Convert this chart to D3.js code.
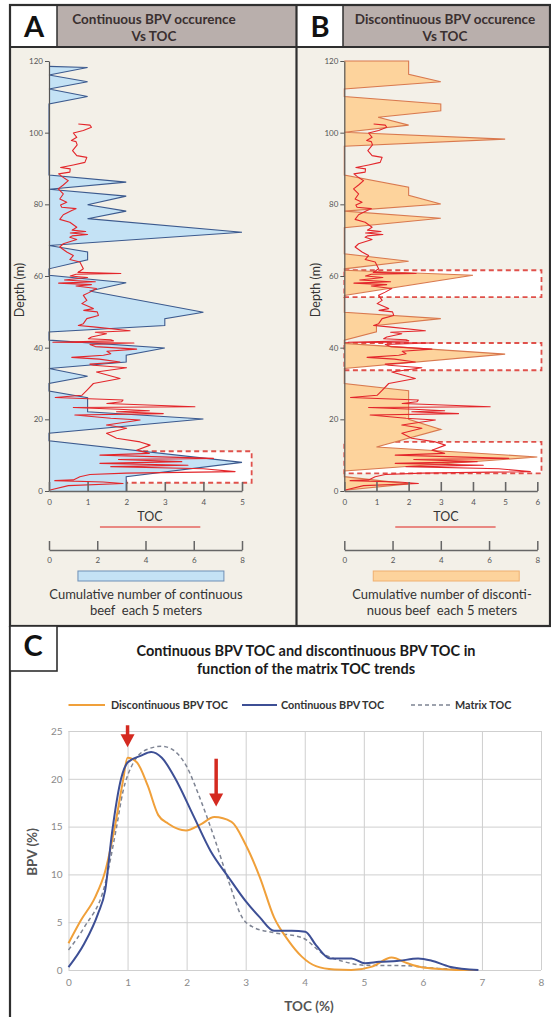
<!DOCTYPE html>
<html><head><meta charset="utf-8">
<script src="https://cdn.jsdelivr.net/npm/d3@7"></script>
<style>
body{margin:0;background:#fff;}
svg{display:block;font-family:Lato,'Open Sans',sans-serif;}
</style>
</head><body>
<svg id="c" width="551" height="1017"></svg>
<script>
// ---------------- DATA ----------------
const depthTicks = [0,20,40,60,80,100,120];
const tocTicksA = [0,1,2,3,4,5];
const tocTicksB = [0,1,2,3,4,5,6];
const cumTicks = [0,2,4,6,8];

// Continuous BPV occurrence profile (panel A), in grid units of the TOC axis
const contDepth = [118.5,118.2,116.1,114.2,112.2,110.1,108.0, 88.2,86.2,84.2,82.3,79.9,78.1,76.0,72.2,68.5,66.7,64.5,62.0, 60.2,58.1,55.8,49.9,48.1,46.2,44.4, 42.1,39.9,37.9,36.0,34.2,32.0,30.0, 27.9,26.0,22.1,20.1,16.1, 14.0,8.0,4.0,0];
const contValue = [0,1,0,1,0,1,0, 0,2,0,2,1,2,1,5,0,1,1,0, 0,2,1.05,4,3,3,0, 0,3,2,2,0,1,0, 0,1,1,4,0, 0,5,2,2];

// Discontinuous BPV occurrence profile (panel B), in grid units of the 0-6 axis
const discDepth = [120,120,116.3,114.2,112.2, 110.1,108.0,106.1,104.3,102.1,100.1,98.2,96.2, 88.2,84.8,82.5,80.1,78.1,76.1,73.5, 66.2,64.1,62.0, 61.6,60.2,54.6, 49.9,48.1,46.2,44.4,42.1, 41.2,38.2,34.2, 30.0,28.0,20.0,17.2,12.3,9.5,5.6, 4.0,2.0,0.2];
const discValue = [0,2,2,3,0, 0,3,3,1.05,2,0,5,0, 0,2,2,3,0,3,0, 0,2,0, 0,4,0, 0,3,1,1,0, 0,5,0, 0,2,2,3,1,6,0, 0,2,0];

// Matrix TOC log (same curve in both panels)
const tocDepth = [102.4,102.1,101.5,100.6,99.9,98.7,97.8,97.5,96.6,95.0,93.6,93.1,91.7,91.0,90.3,89.9,89.0,88.5,87.8,86.6,85.4,84.3,82.9,81.5,80.6,79.8,79.2,78.8,78.3,77.1,75.8,75.0,73.6,72.8,72.4,72.0,71.6,71.2,70.8,70.2,69.0,68.1,66.7,65.7,64.6,63.9,62.0,61.0,60.7,60.5,60.0,59.6,58.9,58.4,58.0,57.6,57.2,56.5,55.5,54.6,53.2,52.3,50.9,50.4,50.0,49.0,48.1,46.7,46.2,45.8,44.7,44.3,43.9,43.0,42.5,42.2,41.9,41.5,41.3,40.9,40.3,39.6,39.0,38.3,37.9,37.3,36.8,36.0,35.4,35.1,34.4,33.2,31.4,30.0,28.1,26.7,26.1,25.4,24.9,24.4,23.5,23.3,22.8,22.4,22.1,21.6,21.2,20.3,19.8,18.4,17.5,16.1,14.7,13.7,12.8,11.4,10.5,10.0,9.1,8.8,8.2,7.7,7.2,6.8,6.2,5.4,5.0,4.6,4.0,3.1,2.9,2.5,2.1,1.5,0.3];
const tocValue = [0.76,1.06,1.10,0.89,0.63,0.72,0.58,0.70,0.73,0.61,0.72,0.98,0.93,0.63,0.30,0.55,0.54,0.25,0.33,0.50,0.37,0.24,0.37,0.28,0.46,0.30,0.33,0.70,0.59,0.37,0.28,0.54,0.72,0.60,0.95,0.55,1.00,0.60,0.54,0.72,0.37,0.28,0.46,0.63,0.54,0.80,0.89,0.75,1.86,0.70,0.55,1.00,0.40,1.20,0.25,1.10,0.70,1.23,1.06,0.89,0.98,0.85,1.15,0.90,1.25,1.28,0.98,0.89,0.76,1.15,2.10,1.20,1.49,1.10,1.02,1.60,1.67,0.10,2.20,1.06,1.20,2.27,1.50,1.60,1.41,0.59,1.30,1.84,1.06,1.15,2.01,1.23,1.84,1.15,0.98,0.85,0.16,1.92,1.88,1.50,3.78,0.63,1.80,2.60,1.75,2.96,0.67,1.60,2.36,1.49,2.01,1.49,1.75,2.36,2.62,2.27,2.60,1.32,4.26,1.80,3.44,1.32,3.60,1.60,4.00,4.82,2.00,1.06,0.80,0.63,0.15,1.40,1.92,0.50,0.03];

// Highlighted intervals (depth top / bottom, right extent in axis units)
const boxTopA = [11.1], boxBottomA = [2.3], boxLeftA = [2.0], boxRightA = [5.25];
const boxTopB = [61.6,41.3,13.7], boxBottomB = [54.1,33.7,4.9], boxRightB = [6.13,6.13,6.13];

// Panel C
const cTicksX = [0,1,2,3,4,5,6,7,8];
const cTicksY = [0,5,10,15,20,25];
const discToc = [0,0.21,0.45,0.62,0.77,0.92,1.0,1.16,1.34,1.52,1.69,1.99,2.23,2.47,2.76,3.0,3.24,3.48,3.72,3.95,4.19,4.5,4.79,5.14,5.47,5.74,5.98,6.3,6.6,6.93];
const discBpv = [2.8,5.2,7.6,10.3,14.5,19.7,22.2,21.7,19.3,16.2,15.3,14.6,15.2,16.0,15.5,13.1,9.7,5.5,3.1,1.4,0.4,0.05,0,0.35,1.3,0.7,0.28,0.1,0,0];
const contToc = [0,0.27,0.5,0.62,0.74,0.89,1.0,1.22,1.4,1.58,1.81,2.11,2.41,2.71,3.0,3.24,3.48,3.78,4.01,4.19,4.43,4.79,5.02,5.26,5.56,5.92,6.15,6.45,6.94];
const contBpv = [0.3,2.8,5.9,8.3,14.5,20.0,21.7,22.4,22.8,22.2,20.0,16.2,12.4,9.7,7.2,5.5,4.1,4.1,4.0,2.6,1.2,1.2,0.7,0.86,0.93,1.2,0.97,0.35,0];
const matToc = [0,0.27,0.62,0.8,0.92,1.1,1.34,1.58,1.75,1.99,2.23,2.47,2.71,2.94,3.12,3.48,3.95,4.31,4.67,5.02,5.68,6.27,6.94];
const matBpv = [2.1,4.5,9.0,14.5,18.6,21.7,23.1,23.4,23.1,21.4,17.9,13.8,9.3,5.5,4.5,3.9,3.4,1.7,0.86,0.5,0.45,0.17,0];
const arrowToc = [1.0,2.5];
const arrowTop = [25.6,22.1];
const arrowTip = [23.3,17.1];

// ---------------- DRAW ----------------
const svg = d3.select("#c");
const DARK = "#2f2f2f";
const fmt = d3.format("d");
svg.append("rect").attr("width",551).attr("height",1017).attr("fill","#fff");

svg.append("rect").attr("x",10).attr("y",5).attr("width",540).attr("height",621).attr("fill","#f3f0e8");
svg.append("rect").attr("x",57).attr("y",5).attr("width",239).attr("height",42).attr("fill","#b9afac");
svg.append("rect").attr("x",343).attr("y",5).attr("width",207).attr("height",42).attr("fill","#b9afac");
svg.append("rect").attr("x",10).attr("y",5).attr("width",47).attr("height",42).attr("fill","#fff");
svg.append("rect").attr("x",297).attr("y",5).attr("width",46).attr("height",42).attr("fill","#fff");
const frame = svg.append("g").attr("stroke",DARK).attr("fill","none");
frame.append("rect").attr("x",10).attr("y",5).attr("width",540).attr("height",621).attr("stroke-width",2.2);
frame.append("line").attr("x1",296.5).attr("x2",296.5).attr("y1",5).attr("y2",626).attr("stroke-width",2.2);
frame.append("line").attr("x1",10).attr("x2",550).attr("y1",47).attr("y2",47).attr("stroke-width",1.8);
frame.append("line").attr("x1",57).attr("x2",57).attr("y1",5).attr("y2",47).attr("stroke-width",1.5);
frame.append("line").attr("x1",343).attr("x2",343).attr("y1",5).attr("y2",47).attr("stroke-width",1.5);

function letter(x,y,t){
  svg.append("text").attr("x",x).attr("y",y).attr("text-anchor","middle")
    .attr("font-size",29).attr("font-weight",700).attr("fill","#111").text(t);
}
letter(34,37,"A"); letter(320,37,"B");
function header(cx,l1){
  const g = svg.append("g").attr("font-size",13.5).attr("font-weight",700).attr("fill","#3a3030").attr("text-anchor","middle");
  g.append("text").attr("x",cx).attr("y",24).text(l1);
  g.append("text").attr("x",cx).attr("y",40.5).text("Vs TOC");
}
header(154,"Continuous BPV occurence");
header(445,"Discontinuous BPV occurence");

const yDepth = d3.scaleLinear().domain([0,120]).range([491,61]);

function panel(o){
  const g = svg.append("g");
  const xAx = o.xAxisScale, xToc = o.xTocScale, xCum = o.xCumScale;
  o.boxes.forEach(b=>{
    g.append("rect").attr("x",xAx(b.l)).attr("y",yDepth(b.t))
      .attr("width",xAx(b.r)-xAx(b.l)).attr("height",yDepth(b.b)-yDepth(b.t))
      .attr("fill","#fff").attr("stroke","#e0514b").attr("stroke-width",1.8).attr("stroke-dasharray","5,3.5");
  });
  const pts = o.depth.map((d,i)=>[d,o.value[i]]);
  g.append("path").datum(pts)
    .attr("d", d3.area().x0(xAx(0)).x1(p=>xAx(p[1])).y(p=>yDepth(p[0])))
    .attr("fill",o.fill);
  g.append("path").datum(pts)
    .attr("d", d3.line().x(p=>xAx(p[1])).y(p=>yDepth(p[0])))
    .attr("fill","none").attr("stroke",o.stroke).attr("stroke-width",1.1);
  const tp = tocDepth.map((d,i)=>[d,tocValue[i]]);
  g.append("path").datum(tp)
    .attr("d", d3.line().x(p=>xToc(p[1])).y(p=>yDepth(p[0])))
    .attr("fill","none").attr("stroke","#e3262b").attr("stroke-width",1.1).attr("stroke-linejoin","round");
  const ya = g.append("g").attr("transform",`translate(${xAx(0)},0)`)
    .call(d3.axisLeft(yDepth).tickValues(depthTicks).tickFormat(fmt).tickSizeInner(4).tickSizeOuter(0).tickPadding(2));
  ya.select(".domain").attr("stroke","#555").attr("stroke-width",1.2);
  ya.selectAll(".tick line").attr("stroke","#555");
  ya.selectAll("text").attr("font-size",8).attr("fill","#555").attr("font-family","Lato");
  const xa = g.append("g").attr("transform","translate(0,491)")
    .call(d3.axisBottom(xAx).tickValues(o.xTicks).tickFormat(fmt).tickSizeInner(-9).tickSizeOuter(0).tickPadding(8));
  xa.select(".domain").attr("stroke","#666").attr("stroke-width",1.6);
  xa.selectAll(".tick line").attr("stroke","#666").attr("stroke-width",1.6);
  xa.selectAll("text").attr("font-size",8).attr("fill","#555").attr("font-family","Lato");
  g.append("text").attr("transform",`translate(${o.depthLabelX},290) rotate(-90)`)
    .attr("text-anchor","middle").attr("font-size",12.5).attr("fill","#333").text("Depth (m)");
  const cx = o.legendCx;
  g.append("text").attr("x",cx).attr("y",521).attr("text-anchor","middle").attr("font-size",12.5).attr("fill","#333").text("TOC");
  g.append("line").attr("x1",xToc(1.32)).attr("x2",xToc(3.92)).attr("y1",527).attr("y2",527).attr("stroke","#e66660").attr("stroke-width",1.6);
  const ca = g.append("g").attr("transform","translate(0,550)")
    .call(d3.axisBottom(xCum).tickValues(cumTicks).tickFormat(fmt).tickSizeInner(-9).tickSizeOuter(0).tickPadding(7));
  ca.select(".domain").attr("stroke","#666").attr("stroke-width",1.5);
  ca.selectAll(".tick line").attr("stroke","#666").attr("stroke-width",1.5);
  ca.selectAll("text").attr("font-size",8).attr("fill","#555").attr("font-family","Lato");
  g.append("rect").attr("x",xCum(1.2)).attr("y",571).attr("width",xCum(7.25)-xCum(1.2)).attr("height",10)
    .attr("fill",o.fill).attr("stroke",o.legendStroke).attr("stroke-width",1);
  g.append("text").attr("x",cx-4).attr("y",599).attr("text-anchor","middle").attr("font-size",13).attr("fill","#333").text(o.l1);
  g.append("text").attr("x",cx-4).attr("y",614.5).attr("text-anchor","middle").attr("font-size",13).attr("fill","#333").attr("xml:space","preserve").text(o.l2);
}

const xA = d3.scaleLinear().domain([0,5]).range([49,242]);
panel({
  xAxisScale: xA, xTocScale: xA, xCumScale: d3.scaleLinear().domain([0,8]).range([49,242]),
  xTicks: tocTicksA, depth: contDepth, value: contValue,
  fill:"#c4e2f5", stroke:"#3c5a8e", legendStroke:"#6f8fb5",
  boxes: boxTopA.map((t,i)=>({t:t,b:boxBottomA[i],l:boxLeftA[i],r:boxRightA[i]})),
  depthLabelX: 24, legendCx: 150,
  l1:"Cumulative number of continuous", l2:"beef  each 5 meters"
});
const xB = d3.scaleLinear().domain([0,6]).range([344.3,537.3]);
panel({
  xAxisScale: xB, xTocScale: d3.scaleLinear().domain([0,5]).range([344.3,537.3]), xCumScale: d3.scaleLinear().domain([0,8]).range([344.3,537.3]),
  xTicks: tocTicksB, depth: discDepth, value: discValue,
  fill:"#fdd39c", stroke:"#d9794f", legendStroke:"#f0b070",
  boxes: boxTopB.map((t,i)=>({t:t,b:boxBottomB[i],l:0,r:boxRightB[i]})),
  depthLabelX: 320, legendCx: 446,
  l1:"Cumulative number of disconti-", l2:"nuous beef  each 5 meters"
});

// ---------------- PANEL C ----------------
svg.append("line").attr("x1",10).attr("x2",551).attr("y1",626).attr("y2",626).attr("stroke",DARK).attr("stroke-width",2.2);
svg.append("line").attr("x1",10).attr("x2",10).attr("y1",626).attr("y2",1017).attr("stroke",DARK).attr("stroke-width",2.2);
svg.append("rect").attr("x",10).attr("y",626).attr("width",47).attr("height",45).attr("fill","#fff").attr("stroke",DARK).attr("stroke-width",1.6);
letter(33,656,"C");
const tg = svg.append("g").attr("font-size",14.5).attr("font-weight",700).attr("fill","#1a1a1a").attr("text-anchor","middle");
tg.append("text").attr("x",306).attr("y",656).text("Continuous BPV TOC and discontinuous BPV TOC in");
tg.append("text").attr("x",306).attr("y",674).text("function of the matrix TOC trends");

const xC = d3.scaleLinear().domain([0,8]).range([68.5,541]);
const yC = d3.scaleLinear().domain([0,25]).range([970,731]);

const gx = svg.append("g").attr("transform","translate(0,970)")
  .call(d3.axisBottom(xC).tickValues(cTicksX).tickFormat(fmt).tickSize(-(970-731)).tickPadding(9));
gx.select(".domain").remove();
gx.selectAll(".tick line").attr("stroke","#cfcfcf").attr("stroke-width",1);
gx.selectAll("text").attr("font-size",10).attr("fill","#8a8a8a").attr("font-family","Lato");
const gy = svg.append("g").attr("transform","translate(68.5,0)")
  .call(d3.axisLeft(yC).tickValues(cTicksY).tickFormat(fmt).tickSize(-(541-68.5)).tickPadding(6));
gy.select(".domain").remove();
gy.selectAll(".tick line").attr("stroke","#cfcfcf").attr("stroke-width",1);
gy.selectAll("text").attr("font-size",10).attr("fill","#8a8a8a").attr("font-family","Lato");

svg.append("text").attr("transform","translate(37,852) rotate(-90)").attr("text-anchor","middle")
  .attr("font-size",13.5).attr("font-weight",700).attr("fill","#555").text("BPV (%)");
svg.append("text").attr("x",309).attr("y",1011).attr("text-anchor","middle")
  .attr("font-size",13.5).attr("font-weight",700).attr("fill","#555").text("TOC (%)");

const lineC = d3.line().x(p=>xC(p[0])).y(p=>yC(p[1])).curve(d3.curveMonotoneX);
svg.append("path").datum(matToc.map((t,i)=>[t,matBpv[i]])).attr("d",lineC)
  .attr("fill","none").attr("stroke","#7e8493").attr("stroke-width",1.5).attr("stroke-dasharray","4,3");
svg.append("path").datum(discToc.map((t,i)=>[t,discBpv[i]])).attr("d",lineC)
  .attr("fill","none").attr("stroke","#f0a03a").attr("stroke-width",2);
svg.append("path").datum(contToc.map((t,i)=>[t,contBpv[i]])).attr("d",lineC)
  .attr("fill","none").attr("stroke","#3d4f95").attr("stroke-width",2);

arrowToc.forEach((t,i)=>{
  const x = xC(t), y0 = yC(arrowTop[i]), y1 = yC(arrowTip[i]);
  const hl = 13, hw = 7;
  svg.append("line").attr("x1",x).attr("x2",x).attr("y1",y0).attr("y2",y1-hl+1)
    .attr("stroke","#d42a20").attr("stroke-width",3.5);
  svg.append("path").attr("d",`M${x-hw},${y1-hl}L${x+hw},${y1-hl}L${x},${y1}Z`).attr("fill","#d42a20");
});

const lg = svg.append("g").attr("font-size",10.8).attr("font-weight",700).attr("fill","#333");
const legItems = [
  {x1:68.5,x2:105,tx:111,label:"Discontinuous BPV TOC",stroke:"#f0a03a",dash:null},
  {x1:242,x2:277,tx:281,label:"Continuous BPV TOC",stroke:"#3d4f95",dash:null},
  {x1:411,x2:450,tx:455,label:"Matrix TOC",stroke:"#7e8493",dash:"4,3"}
];
legItems.forEach(d=>{
  lg.append("line").attr("x1",d.x1).attr("x2",d.x2).attr("y1",705).attr("y2",705)
    .attr("stroke",d.stroke).attr("stroke-width",d.dash?1.3:2).attr("stroke-dasharray",d.dash);
  lg.append("text").attr("x",d.tx).attr("y",709).text(d.label);
});
</script>
</body></html>
